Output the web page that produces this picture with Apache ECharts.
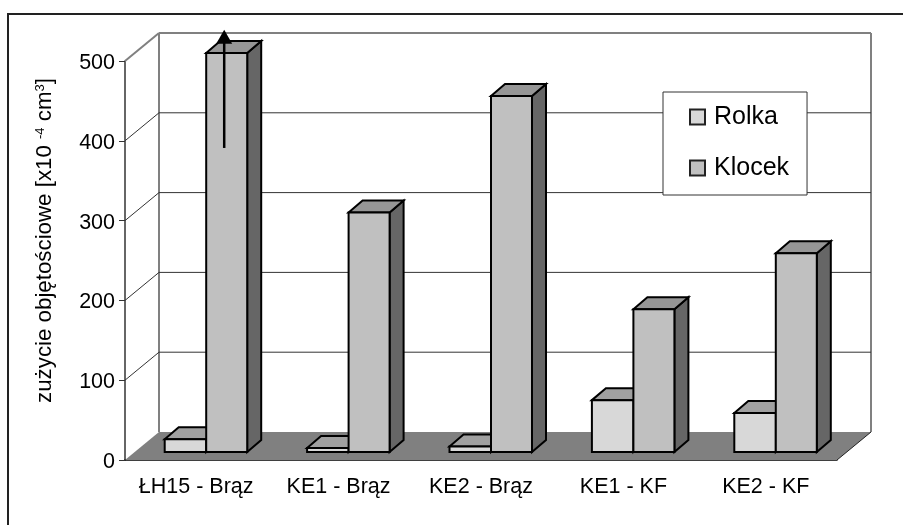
<!DOCTYPE html>
<html>
<head>
<meta charset="utf-8">
<style>
  html, body { margin: 0; padding: 0; background: #fff; }
  #chart { width: 903px; height: 525px; }
</style>
<script src="https://cdn.jsdelivr.net/npm/echarts@6/dist/echarts.min.js"></script>
</head>
<body>
<div id="chart"></div>
<script>
const categories = ['ŁH15 - Brąz', 'KE1 - Brąz', 'KE2 - Brąz', 'KE1 - KF', 'KE2 - KF']
const rolka = [16, 5, 7, 65, 49]
const klocek = [500, 300, 446, 179, 249]
const yTicks = [0, 100, 200, 300, 400, 500]
// arrow on the first Klocek bar: the value runs off the scale
const arrowFrom = 381
const arrowTo = 529

const font = '"Liberation Sans", Arial, sans-serif'
const wallDepth = [34, -28]
const barOffset = [10, -8]
const barDepth = [14, -12]
const stroke = { stroke: '#000', lineWidth: 2, lineJoin: 'miter' }

const chart = echarts.init(document.getElementById('chart'))

function renderWalls(params, api) {
  const v = api.value(0)
  const band = api.size([1, 0])[0]
  const first = api.coord([0, v])
  const last = api.coord([categories.length - 1, v])
  const p = [first[0] - band / 2, first[1]]
  const q = [last[0] + band / 2, last[1]]
  const back = [p[0] + wallDepth[0], p[1] + wallDepth[1]]
  const backR = [q[0] + wallDepth[0], q[1] + wallDepth[1]]
  const children = []
  if (v === 0) {
    const floor = [p, back, backR, q]
    children.push({ type: 'polygon', shape: { points: floor }, style: { fill: '#808080' } })
    const top = api.coord([0, 500])[1] + wallDepth[1]
    children.push({ type: 'line', shape: { x1: back[0], y1: back[1], x2: back[0], y2: top }, style: { stroke: '#808080', lineWidth: 2 } })
    children.push({ type: 'line', shape: { x1: backR[0], y1: backR[1], x2: backR[0], y2: top }, style: { stroke: '#808080', lineWidth: 2 } })
    children.push({ type: 'line', shape: { x1: q[0], y1: q[1], x2: backR[0], y2: backR[1] }, style: { stroke: '#222', lineWidth: 1 } })
  } else {
    const col = v === 500 ? '#808080' : '#333'
    const w = v === 500 ? 2 : 1
    children.push({ type: 'line', shape: { x1: back[0], y1: back[1], x2: backR[0], y2: backR[1] }, style: { stroke: col, lineWidth: w } })
    children.push({ type: 'line', shape: { x1: p[0], y1: p[1], x2: back[0], y2: back[1] }, style: { stroke: col, lineWidth: w } })
  }
  return { type: 'group', children }
}

function barRenderer(from, to, front, top, side) {
  return function (params, api) {
    const cat = api.value(0)
    const val = api.value(1)
    const c = api.coord([cat, val])
    const b = api.coord([cat, 0])
    const x0 = c[0] + from + barOffset[0]
    const x1 = c[0] + to + barOffset[0]
    const yT = c[1] + barOffset[1]
    const yB = b[1] + barOffset[1]
    const dx = barDepth[0]
    const dy = barDepth[1]
    return {
      type: 'group',
      children: [
        { type: 'polygon', shape: { points: [[x1, yB], [x1 + dx, yB + dy], [x1 + dx, yT + dy], [x1, yT]] }, style: { fill: side, ...stroke } },
        { type: 'polygon', shape: { points: [[x0, yT], [x0 + dx, yT + dy], [x1 + dx, yT + dy], [x1, yT]] }, style: { fill: top, ...stroke } },
        { type: 'rect', shape: { x: x0, y: yT, width: x1 - x0, height: yB - yT }, style: { fill: front, ...stroke } }
      ]
    }
  }
}

function renderArrow(params, api) {
  const a = api.coord([api.value(0), api.value(1)])
  const b = api.coord([api.value(0), api.value(2)])
  const x = a[0] + 28
  const y1 = a[1] + barOffset[1]
  const y2 = b[1] + barOffset[1]
  return {
    type: 'group',
    children: [
      { type: 'line', shape: { x1: x, y1: y1, x2: x, y2: y2 + 10 }, style: { stroke: '#000', lineWidth: 2.5 } },
      { type: 'polygon', shape: { points: [[x, y2], [x - 8, y2 + 14], [x + 8, y2 + 14]] }, style: { fill: '#000' } }
    ]
  }
}

chart.setOption({
  animation: false,
  backgroundColor: '#fff',
  textStyle: { fontFamily: font },
  // frame of the scan: only the top and left edges are in the picture
  graphic: [{
    type: 'polyline',
    z: 0,
    shape: { points: [[8, 525], [8, 14], [903, 14]] },
    style: { fill: null, stroke: '#222', lineWidth: 2 }
  }],
  legend: {
    data: ['Rolka', 'Klocek'],
    orient: 'vertical',
    left: 663,
    top: 92,
    padding: [12.5, 18, 14.5, 26],
    itemWidth: 15,
    itemHeight: 15,
    itemGap: 26,
    icon: 'rect',
    backgroundColor: '#fff',
    borderColor: '#333',
    borderWidth: 1,
    borderRadius: 0,
    selectedMode: false,
    itemStyle: { borderColor: '#222', borderWidth: 2 },
    textStyle: { fontSize: 25, lineHeight: 15, color: '#000', fontFamily: font, padding: [0, 0, 0, 4] },
    z: 20
  },
  grid: { left: 125, top: 61, width: 712, height: 399, containLabel: false },
  xAxis: {
    type: 'category',
    data: categories,
    boundaryGap: true,
    axisLine: { lineStyle: { color: '#000', width: 1.5 } },
    axisTick: { length: 6, lineStyle: { color: '#000' } },
    axisLabel: { interval: 0, fontSize: 21.5, color: '#000', margin: 16, fontFamily: font },
    splitLine: { show: false }
  },
  yAxis: {
    type: 'value',
    min: 0,
    max: 500,
    interval: 100,
    name: 'zużycie objętościowe [x10 {sup|-4} cm{sup|3}]',
    nameLocation: 'middle',
    nameGap: 69,
    nameRotate: 90,
    nameTextStyle: {
      fontSize: 22.3,
      color: '#000',
      fontFamily: font,
      padding: [0, 0, 0, 40],
      rich: { sup: { fontSize: 13, verticalAlign: 'top', lineHeight: 13, padding: [0, 0, 9, 0], fontFamily: font } }
    },
    axisLine: { show: true, lineStyle: { color: '#333', width: 1.5 } },
    axisTick: { show: true, length: 6, lineStyle: { color: '#333' } },
    axisLabel: { fontSize: 21.5, color: '#000', margin: 10, verticalAlign: 'top', lineHeight: 4, fontFamily: font },
    splitLine: { show: false }
  },
  series: [
    {
      name: 'walls',
      type: 'custom',
      z: 1,
      clip: false,
      silent: true,
      renderItem: renderWalls,
      encode: { y: 0 },
      data: yTicks.map(v => [v])
    },
    {
      name: 'Rolka',
      type: 'custom',
      z: 2,
      clip: false,
      itemStyle: { color: '#d8d8d8' },
      renderItem: barRenderer(-41.5, 0, '#d8d8d8', '#a0a0a0', '#6a6a6a'),
      encode: { x: 0, y: 1 },
      data: rolka.map((v, i) => [i, v])
    },
    {
      name: 'Klocek',
      type: 'custom',
      z: 3,
      clip: false,
      itemStyle: { color: '#c0c0c0' },
      renderItem: barRenderer(0, 41, '#c0c0c0', '#969696', '#666666'),
      encode: { x: 0, y: 1 },
      data: klocek.map((v, i) => [i, v])
    },
    {
      name: 'arrow',
      type: 'custom',
      z: 4,
      clip: false,
      silent: true,
      renderItem: renderArrow,
      encode: { x: 0, y: [1, 2] },
      data: [[0, arrowFrom, arrowTo]]
    }
  ]
})
</script>
</body>
</html>
